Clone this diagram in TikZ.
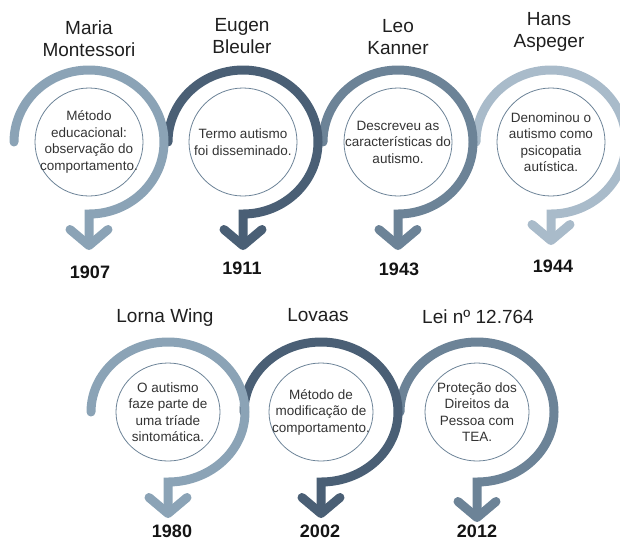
\documentclass[tikz,border=0pt]{standalone}
\usepackage{fontspec}
\setmainfont{Liberation Sans}
\usetikzlibrary{arrows.meta, shapes.geometric}
\definecolor{ringlight}{HTML}{8BA3B6}
\definecolor{ringdark}{HTML}{4A5F75}
\definecolor{ringmid}{HTML}{6C8397}
\definecolor{ringpale}{HTML}{A9BBCA}
\definecolor{textgray}{HTML}{333333}
\tikzstyle{ring} = [line width=9pt, line cap=round, -{Straight Barb[length=16pt, width=38pt, round]}]
\tikzstyle{topictext} = [align=center, text=textgray, font=\fontsize{13.5}{16.5}\selectfont]
\tikzstyle{topic} = [ellipse, draw=ringmid, line width=0.8pt, inner sep=0pt]
\tikzstyle{toptopic} = [topic, minimum width=108pt, minimum height=108pt]
\tikzstyle{lowtopic} = [topic, minimum width=104pt, minimum height=98pt]
\tikzstyle{person} = [align=center, text=black!88, font=\fontsize{19}{22}\selectfont]
\tikzstyle{yearlabel} = [text=black!92, font=\fontsize{18}{20}\selectfont\bfseries]

\begin{document}
\begin{tikzpicture}[x=1pt, y=-1pt]
\useasboundingbox (0,0) rectangle (620,542);

% top row
\node[toptopic, label={[topictext]center:Método\\educacional:\\observação do\\comportamento.}] (montessori) at (89,142) {};
\node[person] (montessoriname) at (89,39) {Maria\\Montessori};
\node[yearlabel] (montessoriyear) at (90,272) {1907};

\node[toptopic, label={[topictext]center:Termo autismo\\foi disseminado.}] (bleuler) at (243,142) {};
\node[person] (bleulername) at (242,36) {Eugen\\Bleuler};
\node[yearlabel] (bleuleryear) at (242,268) {1911};

\node[toptopic, label={[topictext]center:Descreveu as\\características do\\autismo.}] (kanner) at (398,142) {};
\node[person] (kannername) at (398,37) {Leo\\Kanner};
\node[yearlabel] (kanneryear) at (399,269) {1943};

\node[toptopic, label={[topictext]center:Denominou o\\autismo como\\psicopatia\\autística.}] (asperger) at (551,142) {};
\node[person] (aspergername) at (549,32) {Hans\\Aspeger};
\node[yearlabel] (aspergeryear) at (553,266) {1944};

% bottom row
\node[lowtopic, label={[topictext]center:O autismo\\faze parte de\\uma tríade\\sintomática.}] (wing) at (168,412) {};
\node[person] (wingname) at (165,318) {Lorna Wing};
\node[yearlabel] (wingyear) at (172,531) {1980};

\node[lowtopic, label={[topictext]center:Método de\\modificação de\\comportamento.}] (lovaas) at (321,412) {};
\node[person] (lovaasname) at (318,315) {Lovaas};
\node[yearlabel] (lovaasyear) at (320,531) {2002};

\node[lowtopic, label={[topictext]center:Proteção dos\\Direitos da\\Pessoa com\\TEA.}] (lei) at (477,412) {};
\node[person] (leiname) at (478,317) {Lei nº 12.764};
\node[yearlabel] (leiyear) at (477,531) {2012};

% rings, right to left so the earlier one lies on top
\draw[ring, ringpale] (asperger.center) ++(-75,0) arc[start angle=180, end angle=450, x radius=75, y radius=72] -- ++(0,31);
\draw[ring, ringmid] (kanner.center) ++(-75,0) arc[start angle=180, end angle=450, x radius=75, y radius=72] -- ++(0,36);
\draw[ring, ringdark] (bleuler.center) ++(-75,0) arc[start angle=180, end angle=450, x radius=75, y radius=72] -- ++(0,36);
\draw[ring, ringlight] (montessori.center) ++(-75,0) arc[start angle=180, end angle=450, x radius=75, y radius=72] -- ++(0,36);

\draw[ring, ringmid] (lei.center) ++(-77,0) arc[start angle=180, end angle=450, x radius=77, y radius=70] -- ++(0,40);
\draw[ring, ringdark] (lovaas.center) ++(-77,0) arc[start angle=180, end angle=450, x radius=77, y radius=70] -- ++(0,36);
\draw[ring, ringlight] (wing.center) ++(-77,0) arc[start angle=180, end angle=450, x radius=77, y radius=70] -- ++(0,36);
\end{tikzpicture}
\end{document}
